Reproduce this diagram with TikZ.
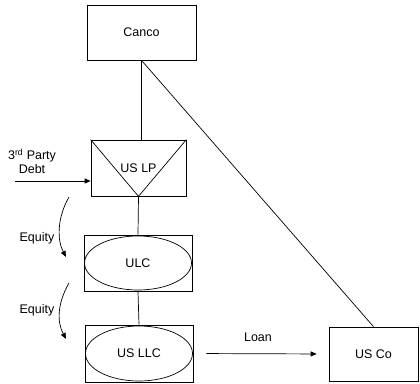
\documentclass[tikz,border=0pt]{standalone}
\usepackage{fontspec}
\setmainfont{Liberation Sans}
\usetikzlibrary{arrows.meta,shapes.geometric}

\begin{document}
\begin{tikzpicture}[x=1pt, y=-1pt, line width=0.7pt,
        every node/.style={font=\fontsize{12.5}{13.5}\selectfont},
        entitybox/.style={shape=rectangle, draw=black, line width=0.7pt, inner sep=0pt},
        entityoval/.style={shape=ellipse, draw=black, line width=0.7pt, inner sep=0pt},
        flowarrow/.style={-{Triangle[length=6pt, width=5pt]}}]
        \useasboundingbox (0,0) rectangle (420,383);
        % Entities
        \node[entitybox, minimum width=109pt, minimum height=55pt] (canco) at (141.5,32.5) {Canco};
        \node[entitybox, minimum width=95pt, minimum height=56pt] (uslp) at (138.5,168) {US LP};
        \draw (uslp.north west) -- (uslp.south) -- (uslp.north east);
        \node[entitybox, minimum width=108pt, minimum height=56pt] (ulcbox) at (138,263) {};
        \node[entityoval, minimum width=107pt, minimum height=54pt] (ulc) at (ulcbox) {ULC};
        \node[entitybox, minimum width=108pt, minimum height=57pt] (usllcbox) at (139,353.5) {};
        \node[entityoval, minimum width=107pt, minimum height=55pt] (usllc) at (usllcbox) {US LLC};
        \node[entitybox, minimum width=89pt, minimum height=54pt] (usco) at (373.5,354) {US Co};
        % Ownership lines
        \draw (canco.south) -- (canco.south |- uslp.north);
        \draw (canco.south) -- (usco.north);
        \draw (uslp.south) -- (ulcbox.north);
        \draw (ulcbox.south) -- (usllcbox.north);
        % Debt and loan
        \node[align=center] (debt) at (32,161) {3\textsuperscript{rd} Party\\Debt};
        \coordinate (debtin) at (15,181);
        \draw[flowarrow] (debtin) -- (debtin -| uslp.west);
        \draw[flowarrow, shorten <=13pt, shorten >=12pt] (usllcbox.east) -- (usco.west);
        \node (loan) at (258,337) {Loan};
        % Equity
        \coordinate (eqatop) at (69,197);
        \coordinate (eqabot) at (66,257);
        \coordinate (eqbtop) at (69,283);
        \coordinate (eqbbot) at (66,339);
        \draw[flowarrow] (eqatop) .. controls (57,218) and (57,240) .. (eqabot);
        \draw[flowarrow] (eqbtop) .. controls (57,304) and (57,322) .. (eqbbot);
        \node (equitya) at (37,238) {Equity};
        \node (equityb) at (37,310) {Equity};
\end{tikzpicture}
\end{document}
